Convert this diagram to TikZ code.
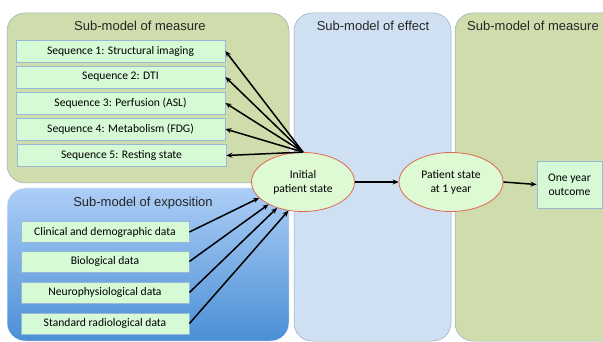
\documentclass[tikz,border=0pt]{standalone}
\usepackage{fontspec}
\setmainfont{Carlito}
\newfontfamily\titlefont{Liberation Sans}
\usetikzlibrary{shapes.geometric,arrows.meta}
\definecolor{panelgreen}{RGB}{207,220,171}
\definecolor{paneleffect}{RGB}{207,224,242}
\definecolor{bluetop}{RGB}{172,206,246}
\definecolor{bluebot}{RGB}{75,143,214}
\definecolor{boxfill}{RGB}{214,250,214}
\definecolor{boxline}{RGB}{150,185,215}
\definecolor{ellfill}{RGB}{222,250,212}
\definecolor{ellline}{RGB}{222,104,84}
\definecolor{panelline}{RGB}{150,170,190}
\tikzset{
  panel/.style={rounded corners=18pt, draw=panelline, line width=0.5pt},
  ptitle/.style={font=\titlefont\fontsize{13}{15}\selectfont, text=black!85},
  databox/.style={draw=boxline, fill=boxfill, line width=0.8pt, minimum height=22pt, inner sep=0pt, font=\fontsize{11.6}{14}\selectfont},
  state/.style={ellipse, draw=ellline, fill=ellfill, line width=0.8pt, minimum width=103pt, minimum height=59pt, inner sep=0pt, align=center, font=\fontsize{11.6}{14}\selectfont},
  link/.style={-{Stealth[length=6pt,width=5pt]}, line width=1.5pt, black}
}
\begin{document}
\begin{tikzpicture}[x=1pt,y=-1pt]
\useasboundingbox (0,0) rectangle (603,342);
% panels
\path[panel, fill=panelgreen] (7,13) rectangle (289,183);
\path[panel, draw=white!85!bluetop, top color=bluetop, bottom color=bluebot] (7,188) rectangle (289,341);
\path[panel, fill=paneleffect] (294,13) rectangle (451,341);
\path[panel, fill=panelgreen] (455,13) rectangle (625,341);
% titles
\node[ptitle] (t1) at (140,26) {Sub-model of measure};
\node[ptitle] (t2) at (143,203) {Sub-model of exposition};
\node[ptitle] (t3) at (373,26) {Sub-model of effect};
\node[ptitle] (t4) at (533,26) {Sub-model of measure};
% sequence boxes
\node[databox, minimum width=209pt] (s1) at (120.5,51) {Sequence 1: Structural imaging};
\node[databox, minimum width=209pt] (s2) at (120.5,77) {Sequence 2: DTI};
\node[databox, minimum width=209pt] (s3) at (120.5,103) {Sequence 3: Perfusion (ASL)};
\node[databox, minimum width=209pt] (s4) at (120.5,129) {Sequence 4: Metabolism (FDG)};
\node[databox, minimum width=209pt] (s5) at (121.5,155.5) {Sequence 5: Resting state};
% exposition boxes
\node[databox, minimum width=168pt, minimum height=21pt] (e1) at (105,232) {Clinical and demographic data};
\node[databox, minimum width=168pt, minimum height=21pt] (e2) at (105,261.5) {Biological data};
\node[databox, minimum width=168pt, minimum height=21pt] (e3) at (105,292.5) {Neurophysiological data};
\node[databox, minimum width=168pt, minimum height=21pt] (e4) at (105,323.5) {Standard radiological data};
% states
\node[state] (init) at (303,182) {Initial\\patient state};
\node[state, minimum width=104pt] (one) at (451,182) {Patient state\\at 1 year};
\node[databox, minimum width=65pt, minimum height=47pt, align=center] (out) at (569.5,184.5) {One year\\outcome};
% arrows
\foreach \s in {s1,s2,s3,s4,s5} \draw[link] (init.north) -- (\s.east);
\draw[link] (e1.east) -- (init.200);
\draw[link] (e2.east) -- (init.213);
\draw[link] (e3.east) -- (init.225);
\draw[link] (e4.east) -- (init.243);
\draw[link] (init.east) -- (one.west);
\draw[link] (one.east) -- (out.west);
\end{tikzpicture}
\end{document}
